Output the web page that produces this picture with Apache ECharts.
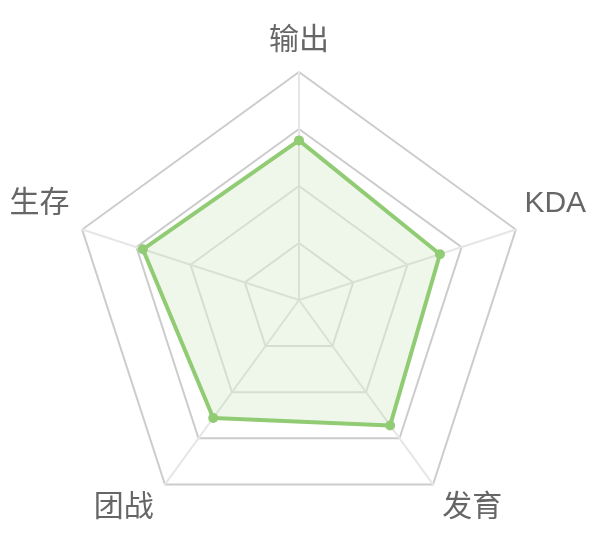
<!DOCTYPE html>
<html><head><meta charset="utf-8">
<script src="https://cdn.jsdelivr.net/npm/echarts@6/dist/echarts.min.js"></script>
<style>html,body{margin:0;padding:0;background:#fff}#c{width:603px;height:560px}</style>
</head><body><div id="c"></div>
<script>
// indicators listed in drawing order (counter-clockwise from the top)
const indicators = ['输出', '生存', '团战', '发育', 'KDA'];
const maxValues = [100, 100, 100, 100, 100];
const values = [70, 72, 64, 68, 65];

const nameStyle = {
  '输出': 'top', '生存': 'left', 'KDA': 'right', '团战': 'bl', '发育': 'br'
};

const chart = echarts.init(document.getElementById('c'), null, {renderer: 'canvas'});
chart.setOption({
  animation: false,
  radar: {
    center: [299, 300],
    radius: 228,
    startAngle: 90,
    splitNumber: 4,
    shape: 'polygon',
    indicator: indicators.map((n, i) => ({name: n, max: maxValues[i]})),
    axisName: {
      color: '#666',
      fontSize: 30,
      fontFamily: '"Liberation Sans", "Noto Sans CJK SC", sans-serif',
      formatter: (name) => '{' + nameStyle[name] + '|' + name + '}',
      rich: {
        top: {fontSize: 30, color: '#666', padding: [0, 0, 7, 0]},
        left: {fontSize: 30, color: '#666', padding: [0, 4, 46, 0]},
        right: {fontSize: 30, color: '#666', padding: [0, 0, 46, 0]},
        bl: {fontSize: 30, color: '#666', padding: [31, 6, 0, 0]},
        br: {fontSize: 30, color: '#666', padding: [31, 0, 0, 4]}
      }
    },
    nameGap: 9,
    splitLine: {lineStyle: {color: ['#e2e2e2', '#e2e2e2', '#e2e2e2', '#cccccc', '#cccccc'], width: 2}},
    splitArea: {show: false},
    axisLine: {lineStyle: {color: '#e6e6e6', width: 2}}
  },
  series: [{
    type: 'radar',
    symbol: 'circle',
    symbolSize: 10,
    lineStyle: {color: '#91cc75', width: 4},
    itemStyle: {color: '#91cc75'},
    areaStyle: {color: '#91cc75', opacity: 0.15},
    data: [{value: values}]
  }]
});
</script></body></html>
